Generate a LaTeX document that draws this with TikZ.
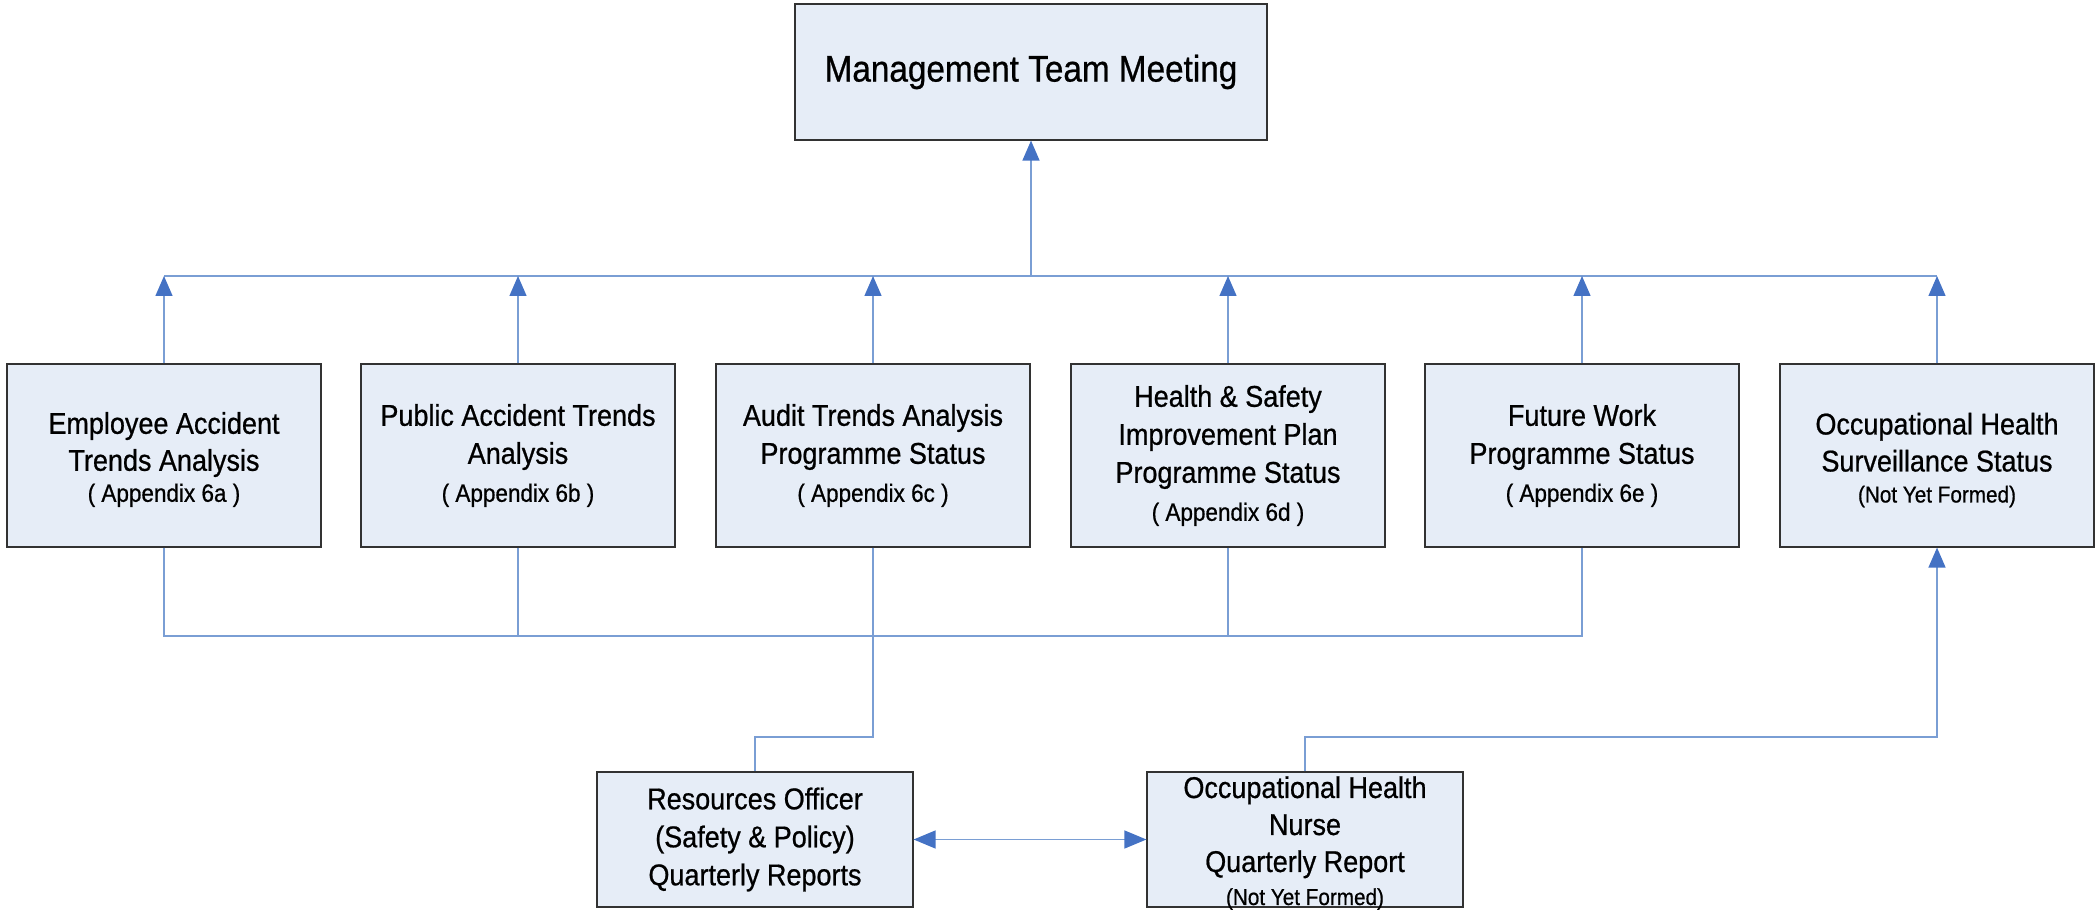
\documentclass[tikz,border=0pt]{standalone}
\usepackage{fontspec}
\setmainfont{Liberation Sans}[FakeStretch=0.9,FakeBold=0.7]
\usetikzlibrary{arrows.meta}
\definecolor{boxfill}{RGB}{230,237,247}
\definecolor{boxline}{RGB}{50,50,50}
\definecolor{linecol}{RGB}{122,158,212}
\definecolor{headcol}{RGB}{68,114,196}
\newcommand{\appx}[1]{{\fontsize{12.5}{15}\selectfont #1}}
\newcommand{\nyf}[1]{{\fontsize{11.5}{14}\selectfont #1}}
\begin{document}
\begin{tikzpicture}[x=0.5pt,y=-0.5pt,
  box/.style={draw=boxline, line width=0.6pt, fill=boxfill, inner sep=0pt, align=center,
    font=\fontsize{15}{19}\selectfont},
  rowbox/.style={box, minimum width=157pt, minimum height=91.5pt},
  botbox/.style={box, minimum width=158pt, minimum height=67.5pt},
  wire/.style={draw=linecol, line width=0.7pt},
  conn/.style={wire, -{Triangle[length=10pt,width=8.5pt,color=headcol]}},
  dconn/.style={wire, {Triangle[length=11pt,width=9pt,color=headcol]}-{Triangle[length=11pt,width=9pt,color=headcol]}},
  lbl/.style={align=center, inner sep=0pt, font=\fontsize{15}{18.5}\selectfont}
]
\useasboundingbox (0,0) rectangle (2098,913);

\node[box, minimum width=236pt, minimum height=68pt, font=\fontsize{18.5}{22}\selectfont] (top) at (1031,72) {Management Team Meeting};

\node[rowbox] (b1) at (164,455.5) {};
\node[lbl] (b1text) at (164,459.5) {Employee Accident\\Trends Analysis\\[-3pt]\appx{( Appendix 6a )}};
\node[rowbox] (b2) at (518,455.5) {Public Accident Trends\\Analysis\\\appx{( Appendix 6b )}};
\node[rowbox] (b3) at (873,455.5) {Audit Trends Analysis\\Programme Status\\\appx{( Appendix 6c )}};
\node[rowbox] (b4) at (1228,455.5) {Health \& Safety\\Improvement Plan\\Programme Status\\\appx{( Appendix 6d )}};
\node[rowbox] (b5) at (1582,455.5) {Future Work\\Programme Status\\\appx{( Appendix 6e )}};
\node[rowbox] (b6) at (1937,455.5) {};
\node[lbl] (b6text) at (1937,460) {Occupational Health\\Surveillance Status\\[-3pt]\nyf{(Not Yet Formed)}};

\node[botbox] (res) at (755,839.5) {Resources Officer\\(Safety \& Policy)\\Quarterly Reports};
\node[botbox] (nurse) at (1305,839.5) {};
\node[lbl] (nursetext) at (1305,843) {Occupational Health\\Nurse\\Quarterly Report\\[-2pt]\nyf{(Not Yet Formed)}};

\coordinate (busT) at (1031,276);
\coordinate (busB) at (0,636);
\coordinate (kink) at (0,737);

% upper bus
\draw[wire] (b1.north |- busT) -- (b6.north |- busT);
\foreach \b in {b1,b2,b3,b4,b5,b6}{
  \draw[conn] (\b.north) -- (\b.north |- busT);
}
\draw[conn] (busT) -- (top.south);

% lower bus
\draw[wire] (b1.south) -- (b1.south |- busB) -- (b5.south |- busB) -- (b5.south);
\draw[wire] (b2.south) -- (b2.south |- busB);
\draw[wire] (b4.south) -- (b4.south |- busB);
\draw[wire] (b3.south) |- (res.north |- kink) -- (res.north);

% nurse to occupational health
\draw[conn] (nurse.north) |- (b6.south |- kink) -- (b6.south);

% double arrow
\draw[dconn] (res.east) -- (nurse.west);
\end{tikzpicture}
\end{document}
